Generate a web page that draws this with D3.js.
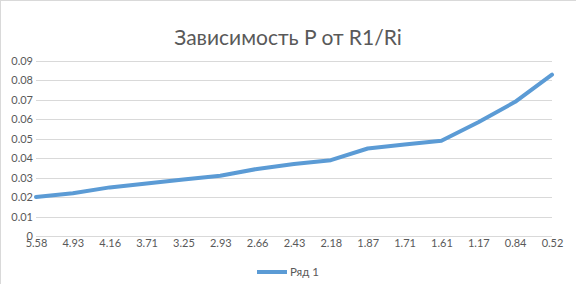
<!DOCTYPE html>
<html>
<head>
<meta charset="utf-8">
<script src="https://d3js.org/d3.v7.min.js"></script>
<style>
  body { margin: 0; background: #fff; }
  svg { display: block; font-family: Lato, "Open Sans", sans-serif; }
</style>
</head>
<body>
<div id="chart"></div>
<script>
// categories (R1/Ri) and values (P)
const categories = ["5.58", "4.93", "4.16", "3.71", "3.25", "2.93", "2.66", "2.43", "2.18", "1.87", "1.71", "1.61", "1.17", "0.84", "0.52"];
const values = [0.020, 0.022, 0.025, 0.027, 0.029, 0.031, 0.0345, 0.037, 0.039, 0.045, 0.047, 0.049, 0.0585, 0.069, 0.083];
const yTicks = [0, 0.01, 0.02, 0.03, 0.04, 0.05, 0.06, 0.07, 0.08, 0.09];
const seriesName = "Ряд 1";

const width = 576, height = 284;
const margin = { left: 36, right: 24, top: 61, bottom: 48 };

const svg = d3.select("#chart").append("svg").attr("width", width).attr("height", height);

// chart border
svg.append("rect")
    .attr("x", 0.5).attr("y", 0.5)
    .attr("width", width).attr("height", height)
    .attr("fill", "#fff")
    .attr("stroke", "#d9d9d9");

const x = d3.scalePoint()
    .domain(categories)
    .range([margin.left, width - margin.right]);

const y = d3.scaleLinear()
    .domain([0, 0.09])
    .range([height - margin.bottom, margin.top]);

// title
svg.append("text")
    .attr("x", width / 2)
    .attr("y", 45)
    .attr("text-anchor", "middle")
    .attr("font-size", 21)
    .attr("fill", "#595959")
    .text("Зависимость P от R1/Ri");

// gridlines
svg.append("g")
    .selectAll("line")
    .data(yTicks.slice(1))
    .enter().append("line")
    .attr("x1", margin.left)
    .attr("x2", width - margin.right)
    .attr("y1", d => Math.round(y(d)) + 0.5)
    .attr("y2", d => Math.round(y(d)) + 0.5)
    .attr("stroke", "#d9d9d9");

// y axis labels
const yAxis = svg.append("g")
    .attr("transform", `translate(${margin.left - 3},0)`)
    .call(d3.axisLeft(y).tickValues(yTicks).tickSize(0).tickPadding(0).tickFormat(d => d === 0 ? "0" : d3.format(".2f")(d)));
yAxis.select(".domain").remove();
yAxis.selectAll("text").attr("font-size", 11).attr("fill", "#595959").attr("font-family", "Lato, sans-serif");

// x axis
const xAxis = svg.append("g")
    .attr("transform", `translate(0,${Math.round(y(0)) + 0.5})`)
    .call(d3.axisBottom(x).tickSize(0).tickPadding(3));
xAxis.select(".domain").attr("stroke", "#d9d9d9").attr("d", `M${margin.left},0H${width - margin.right}`);
xAxis.selectAll("text").attr("font-size", 11).attr("fill", "#595959").attr("font-family", "Lato, sans-serif");

// line
const line = d3.line()
    .x((d, i) => x(categories[i]))
    .y(d => y(d));

svg.append("path")
    .datum(values)
    .attr("fill", "none")
    .attr("stroke", "#5b9bd5")
    .attr("stroke-width", 4)
    .attr("stroke-linejoin", "round")
    .attr("stroke-linecap", "round")
    .attr("d", line);

// legend
const legend = svg.append("g").attr("transform", "translate(257,272)");
legend.append("line")
    .attr("x1", 0).attr("x2", 30)
    .attr("y1", 0).attr("y2", 0)
    .attr("stroke", "#5b9bd5")
    .attr("stroke-width", 4);
legend.append("text")
    .attr("x", 33)
    .attr("y", 4)
    .attr("font-size", 11.5)
    .attr("fill", "#595959")
    .text(seriesName);
</script>
</body>
</html>
